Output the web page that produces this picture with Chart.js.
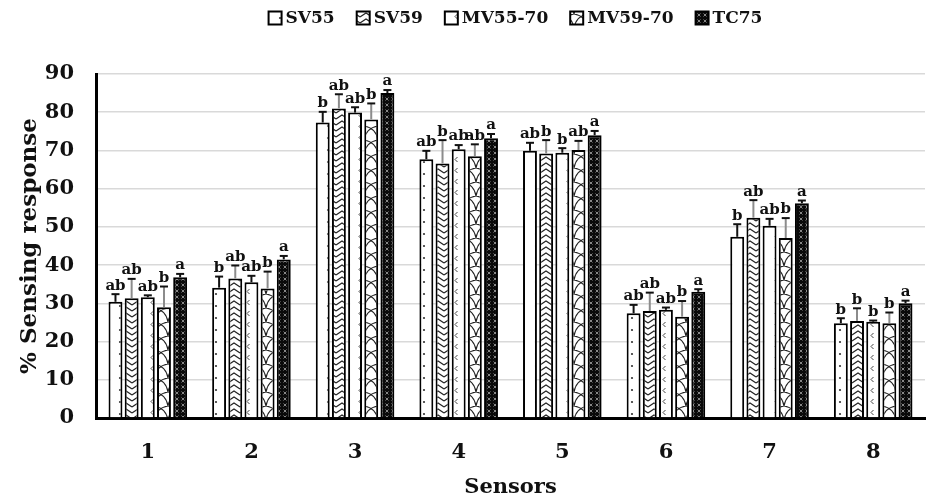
<!DOCTYPE html>
<html lang="en">
<head>
<meta charset="UTF-8">
<title>Sensing response</title>
<script src="https://cdn.jsdelivr.net/npm/chart.js"></script>
<style>
  html, body { margin: 0; padding: 0; background: #fff; }
  #wrap { width: 932px; height: 502px; }
</style>
</head>
<body>
<div id="wrap"><canvas id="chart" width="932" height="502"></canvas></div>
<script>
// values
const sensors = ['1', '2', '3', '4', '5', '6', '7', '8'];
const seriesNames = ['SV55', 'SV59', 'MV55-70', 'MV59-70', 'TC75'];

const sv55 = [30.4, 34.1, 77.3, 67.7, 69.9, 27.4, 47.4, 24.8];
const sv59 = [31.3, 36.5, 81.0, 66.6, 69.2, 28.0, 52.4, 25.4];
const mv5570 = [31.6, 35.5, 79.9, 70.3, 69.4, 28.3, 50.3, 25.2];
const mv5970 = [29.0, 33.9, 78.1, 68.5, 70.1, 26.5, 47.1, 24.8];
const tc75 = [36.8, 41.5, 85.0, 73.2, 74.0, 33.0, 56.2, 30.0];

// upper error (sd)
const sv55Err = [2.0, 2.9, 2.8, 2.2, 2.1, 2.2, 3.3, 1.3];
const sv59Err = [5.1, 3.4, 3.7, 6.1, 3.5, 4.8, 4.6, 3.3];
const mv5570Err = [0.5, 1.7, 1.4, 1.1, 1.2, 0.6, 1.8, 0.3];
const mv5970Err = [5.4, 4.4, 4.2, 3.1, 2.4, 4.1, 5.2, 2.8];
const tc75Err = [0.9, 0.9, 0.8, 1.1, 1.1, 0.7, 0.7, 0.7];

// significance letters
const sv55Sig = ['ab', 'b', 'b', 'ab', 'ab', 'ab', 'b', 'b'];
const sv59Sig = ['ab', 'ab', 'ab', 'b', 'b', 'ab', 'ab', 'b'];
const mv5570Sig = ['ab', 'ab', 'ab', 'ab', 'b', 'ab', 'ab', 'b'];
const mv5970Sig = ['b', 'b', 'b', 'ab', 'ab', 'b', 'b', 'b'];
const tc75Sig = ['a', 'a', 'a', 'a', 'a', 'a', 'a', 'a'];

const yTicks = [0, 10, 20, 30, 40, 50, 60, 70, 80, 90];

const FONT = "'DejaVu Serif', 'Liberation Serif', serif";
const ctx = document.getElementById('chart').getContext('2d');

// little fill patterns, like the black & white print
function makePattern(w, h, bg, draw) {
    const c = document.createElement('canvas');
    c.width = w; c.height = h;
    const g = c.getContext('2d');
    g.fillStyle = bg;
    g.fillRect(0, 0, w, h);
    draw(g);
    return ctx.createPattern(c, 'repeat');
}

const patDots = makePattern(16, 12, '#fff', g => {
    g.fillStyle = '#333';
    g.beginPath(); g.arc(8, 6, 1.1, 0, Math.PI * 2); g.fill();
});
const patChevron = makePattern(12, 6, '#fff', g => {
    g.strokeStyle = '#222'; g.lineWidth = 1.1;
    g.beginPath(); g.moveTo(0, 5); g.lineTo(6, 1); g.lineTo(12, 5); g.stroke();
});
const patArrow = makePattern(16, 11, '#fff', g => {
    g.strokeStyle = '#444'; g.lineWidth = 1;
    g.beginPath(); g.moveTo(9.5, 3); g.lineTo(7, 5.5); g.lineTo(9.5, 8); g.stroke();
});
const patWave = makePattern(14, 14, '#fff', g => {
    g.strokeStyle = '#222'; g.lineWidth = 1.2;
    g.beginPath(); g.moveTo(0, 0); g.quadraticCurveTo(12, 2, 14, 14); g.stroke();
    g.beginPath(); g.moveTo(14, 0); g.quadraticCurveTo(2, 2, 0, 14); g.stroke();
});
const patCross = makePattern(6, 6, '#0a0a0a', g => {
    g.strokeStyle = '#bdbdbd'; g.lineWidth = 0.7;
    g.beginPath(); g.moveTo(1.5, 1.5); g.lineTo(4.5, 4.5); g.moveTo(4.5, 1.5); g.lineTo(1.5, 4.5); g.stroke();
});

const fills = [patDots, patChevron, patArrow, patWave, patCross];
const values = [sv55, sv59, mv5570, mv5970, tc75];
const errs = [sv55Err, sv59Err, mv5570Err, mv5970Err, tc75Err];
const sigs = [sv55Sig, sv59Sig, mv5570Sig, mv5970Sig, tc75Sig];
const errColors = ['#111', '#8c8c8c', '#111', '#8c8c8c', '#111'];

const datasets = seriesNames.map((name, i) => ({
    label: name,
    data: values[i],
    backgroundColor: fills[i],
    borderColor: '#000',
    borderWidth: 2,
    borderSkipped: 'bottom',
    errors: errs[i],
    letters: sigs[i],
    errColor: errColors[i],
    categoryPercentage: 0.78,
    barPercentage: 0.86
}));

// error bars (upper only) and letters above them
const errorBarPlugin = {
    id: 'errorBars',
    afterDatasetsDraw(chart) {
        const c = chart.ctx;
        const y = chart.scales.y;
        chart.data.datasets.forEach((ds, di) => {
            const meta = chart.getDatasetMeta(di);
            meta.data.forEach((bar, i) => {
                const top = y.getPixelForValue(ds.data[i]);
                const cap = y.getPixelForValue(ds.data[i] + ds.errors[i]);
                c.save();
                c.strokeStyle = ds.errColor;
                c.lineWidth = 2;
                c.beginPath(); c.moveTo(bar.x, top); c.lineTo(bar.x, cap); c.stroke();
                c.strokeStyle = '#111';
                c.beginPath(); c.moveTo(bar.x - 4, cap); c.lineTo(bar.x + 4, cap); c.stroke();
                c.fillStyle = '#111';
                c.font = 'bold 15px ' + FONT;
                c.textAlign = 'center';
                c.textBaseline = 'bottom';
                c.fillText(ds.letters[i], bar.x, cap - 1);
                c.restore();
            });
        });
    }
};

// legend drawn by hand so it sits where the original has it
const legendPlugin = {
    id: 'topLegend',
    afterDraw(chart) {
        const c = chart.ctx;
        c.save();
        c.font = 'bold 17px ' + FONT;
        c.textBaseline = 'middle';
        const box = 13, gap = 4, sep = 22;
        const widths = chart.data.datasets.map(ds => box + gap + c.measureText(ds.label).width);
        const total = widths.reduce((a, b) => a + b, 0) + sep * (widths.length - 1);
        const area = chart.chartArea;
        let x = (area.left + area.right) / 2 - total / 2 + 5;
        const cy = 18;
        chart.data.datasets.forEach((ds, i) => {
            c.fillStyle = ds.backgroundColor;
            c.fillRect(x, cy - box / 2, box, box);
            c.strokeStyle = '#000';
            c.lineWidth = 2;
            c.strokeRect(x, cy - box / 2, box, box);
            c.fillStyle = '#111';
            c.fillText(ds.label, x + box + gap, cy + 1);
            x += widths[i] + sep;
        });
        c.restore();
    }
};

new Chart(ctx, {
    type: 'bar',
    data: { labels: sensors, datasets: datasets },
    options: {
        responsive: false,
        animation: false,
        layout: { padding: { top: 74, right: 7, left: 0, bottom: 0 } },
        plugins: {
            legend: { display: false },
            tooltip: { enabled: false }
        },
        scales: {
            x: {
                grid: { display: false, drawTicks: false },
                border: { display: true, color: '#000', width: 3 },
                ticks: { color: '#111', padding: 22, font: { family: FONT, size: 21, weight: 'bold' } },
                title: {
                    display: true, text: 'Sensors', color: '#111',
                    padding: { top: 0, bottom: 2 },
                    font: { family: FONT, size: 21, weight: 'bold' }
                },
                afterFit(scale) { scale.height = 84; }
            },
            y: {
                min: 0,
                max: 90,
                afterBuildTicks(scale) { scale.ticks = yTicks.map(v => ({ value: v })); },
                grid: { color: '#d9d9d9', lineWidth: 1.5, drawTicks: false },
                border: { display: true, color: '#000', width: 3 },
                ticks: { color: '#111', padding: 22, font: { family: FONT, size: 21, weight: 'bold' } },
                title: {
                    display: true, text: '% Sensing response', color: '#111',
                    padding: { top: 16, bottom: 0 },
                    font: { family: FONT, size: 23, weight: 'bold' }
                },
                afterFit(scale) { scale.width = 96; }
            }
        }
    },
    plugins: [errorBarPlugin, legendPlugin]
});
</script>
</body>
</html>
